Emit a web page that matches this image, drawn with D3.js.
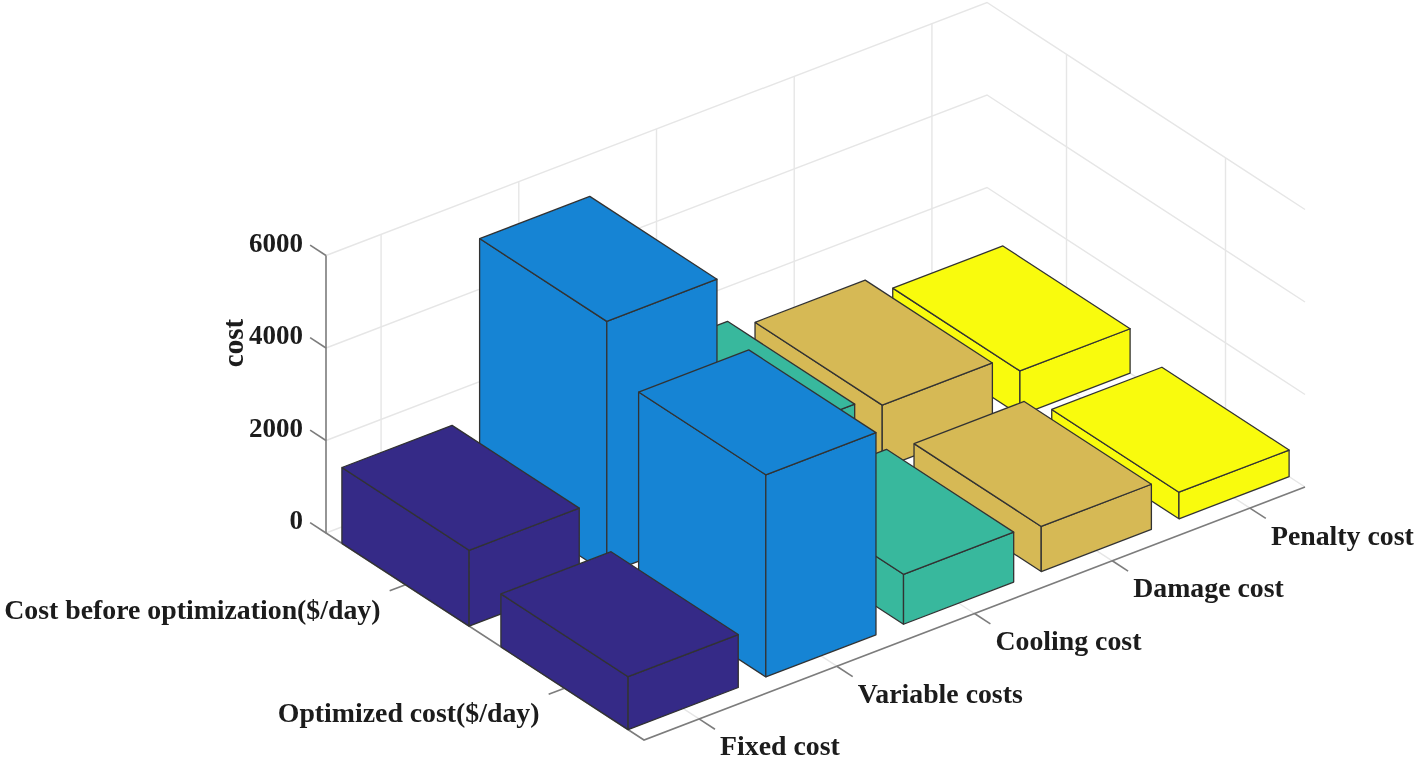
<!DOCTYPE html>
<html>
<head>
<meta charset="utf-8">
<script src="https://cdn.jsdelivr.net/npm/d3@7"></script>
<style>
  body { margin: 0; background: #fff; }
  text { font-family: "Liberation Serif", serif; font-weight: bold; fill: #1a1a1a; font-size: 27.8px; }
  .zlabel { font-size: 27px; }
  .title { font-size: 29px; }
  .grid { stroke: #e6e6e6; stroke-width: 1.4; fill: none; }
  .axis { stroke: #7c7c7c; stroke-width: 1.6; fill: none; }
  .face { stroke: #333; stroke-width: 1.3; stroke-linejoin: round; }
</style>
</head>
<body>
<script>
// data
const categories = ["Fixed cost", "Variable costs", "Cooling cost", "Damage cost", "Penalty cost"];
const seriesNames = ["Cost before optimization($/day)", "Optimized cost($/day)"];
const costBefore = [1640, 5450, 1610, 1360, 960];
const costOptimized = [1145, 4370, 1080, 975, 575];
const colors = ["#342987", "#1484d4", "#38b89d", "#d6b955", "#f9fb0e"];
const zTicks = [0, 2000, 4000, 6000];

// dimensions
const width = 1417, height = 762;
const barHalf = 0.4;
const xLim = [0.6, 5.4], yLim = [0.5, 2.5], zLim = [0, 6000];
const origin = {left: 326, top: 533}; // where xLim[0], yLim[0], zLim[0] lands on screen

// each data axis moves the point on screen in both directions
const xToLeft = d3.scaleLinear().domain(xLim).range([0, 661]);
const xToTop = d3.scaleLinear().domain(xLim).range([0, -253]);
const yToLeft = d3.scaleLinear().domain(yLim).range([0, 318]);
const yToTop = d3.scaleLinear().domain(yLim).range([0, 207]);
const zToTop = d3.scaleLinear().domain(zLim).range([0, -277.5]);

function project(x, y, z) {
    return [origin.left + xToLeft(x) + yToLeft(y), origin.top + xToTop(x) + yToTop(y) + zToTop(z)];
}

const line = d3.line();

const root = d3.select("body").append("svg")
    .attr("width", width)
    .attr("height", height);

// the reference is a soft, slightly resampled picture
root.append("filter")
    .attr("id", "soft")
    .append("feGaussianBlur")
    .attr("stdDeviation", 0.45);

const svg = root.append("g").attr("filter", "url(#soft)");

function drawPath(g, cls, pts) {
    g.append("path").attr("class", cls).attr("d", line(pts.map(p => project(p[0], p[1], p[2]))));
}

const xTicks = categories.map((d, i) => i + 1);
const yTicks = seriesNames.map((d, i) => i + 1);

// walls and floor grid
const grid = svg.append("g");
zTicks.forEach(function(z) {
    drawPath(grid, "grid", [[xLim[0], yLim[0], z], [xLim[1], yLim[0], z], [xLim[1], yLim[1], z]]);
});
xTicks.forEach(function(x) {
    drawPath(grid, "grid", [[x, yLim[1], 0], [x, yLim[0], 0], [x, yLim[0], zLim[1]]]);
});
yTicks.forEach(function(y) {
    drawPath(grid, "grid", [[xLim[0], y, 0], [xLim[1], y, 0], [xLim[1], y, zLim[1]]]);
});

// axes lines and ticks
const axes = svg.append("g");
drawPath(axes, "axis", [[xLim[0], yLim[0], zLim[1]], [xLim[0], yLim[0], 0], [xLim[0], yLim[1], 0], [xLim[1], yLim[1], 0]]);
zTicks.forEach(function(z) {
    drawPath(axes, "axis", [[xLim[0], yLim[0], z], [xLim[0], yLim[0] - 0.1, z]]);
});
xTicks.forEach(function(x) {
    drawPath(axes, "axis", [[x, yLim[1], 0], [x, yLim[1] + 0.1, 0]]);
});
yTicks.forEach(function(y) {
    drawPath(axes, "axis", [[xLim[0], y, 0], [xLim[0] - 0.115, y, 0]]);
});

// bars, far ones first so the near ones cover them
const bars = [];
categories.forEach(function(c, i) {
    bars.push({x: i + 1, y: 1, value: costBefore[i], color: colors[i]});
    bars.push({x: i + 1, y: 2, value: costOptimized[i], color: colors[i]});
});
bars.sort((a, b) => (b.x - a.x) || (a.y - b.y));

const barGroups = svg.selectAll(".bar")
    .data(bars)
    .enter()
    .append("g")
    .attr("class", "bar")
    .attr("fill", d => d.color);

barGroups.each(function(d) {
    const g = d3.select(this);
    const x0 = d.x - barHalf, x1 = d.x + barHalf;
    const y0 = d.y - barHalf, y1 = d.y + barHalf;
    drawPath(g, "face", [[x0, y0, 0], [x0, y1, 0], [x0, y1, d.value], [x0, y0, d.value], [x0, y0, 0]]);
    drawPath(g, "face", [[x0, y1, 0], [x1, y1, 0], [x1, y1, d.value], [x0, y1, d.value], [x0, y1, 0]]);
    drawPath(g, "face", [[x0, y0, d.value], [x0, y1, d.value], [x1, y1, d.value], [x1, y0, d.value], [x0, y0, d.value]]);
});

// labels
svg.selectAll(".zlabel")
    .data(zTicks)
    .enter()
    .append("text")
    .attr("class", "zlabel")
    .attr("text-anchor", "end")
    .attr("x", d => project(xLim[0], yLim[0], d)[0] - 23)
    .attr("y", d => project(xLim[0], yLim[0], d)[1] - 4)
    .text(d => d);

svg.selectAll(".xlabel")
    .data(categories)
    .enter()
    .append("text")
    .attr("class", "xlabel")
    .attr("x", (d, i) => project(i + 1, yLim[1], 0)[0] + 21)
    .attr("y", (d, i) => project(i + 1, yLim[1], 0)[1] + 36.5)
    .text(d => d);

svg.selectAll(".ylabel")
    .data(seriesNames)
    .enter()
    .append("text")
    .attr("class", "ylabel")
    .attr("text-anchor", "end")
    .attr("x", (d, i) => project(xLim[0], i + 1, 0)[0] - 25)
    .attr("y", (d, i) => project(xLim[0], i + 1, 0)[1] + 34)
    .text(d => d);

// z axis title
svg.append("text")
    .attr("class", "title")
    .attr("text-anchor", "middle")
    .attr("transform", "translate(243,343) rotate(-90)")
    .text("cost");
</script>
</body>
</html>
